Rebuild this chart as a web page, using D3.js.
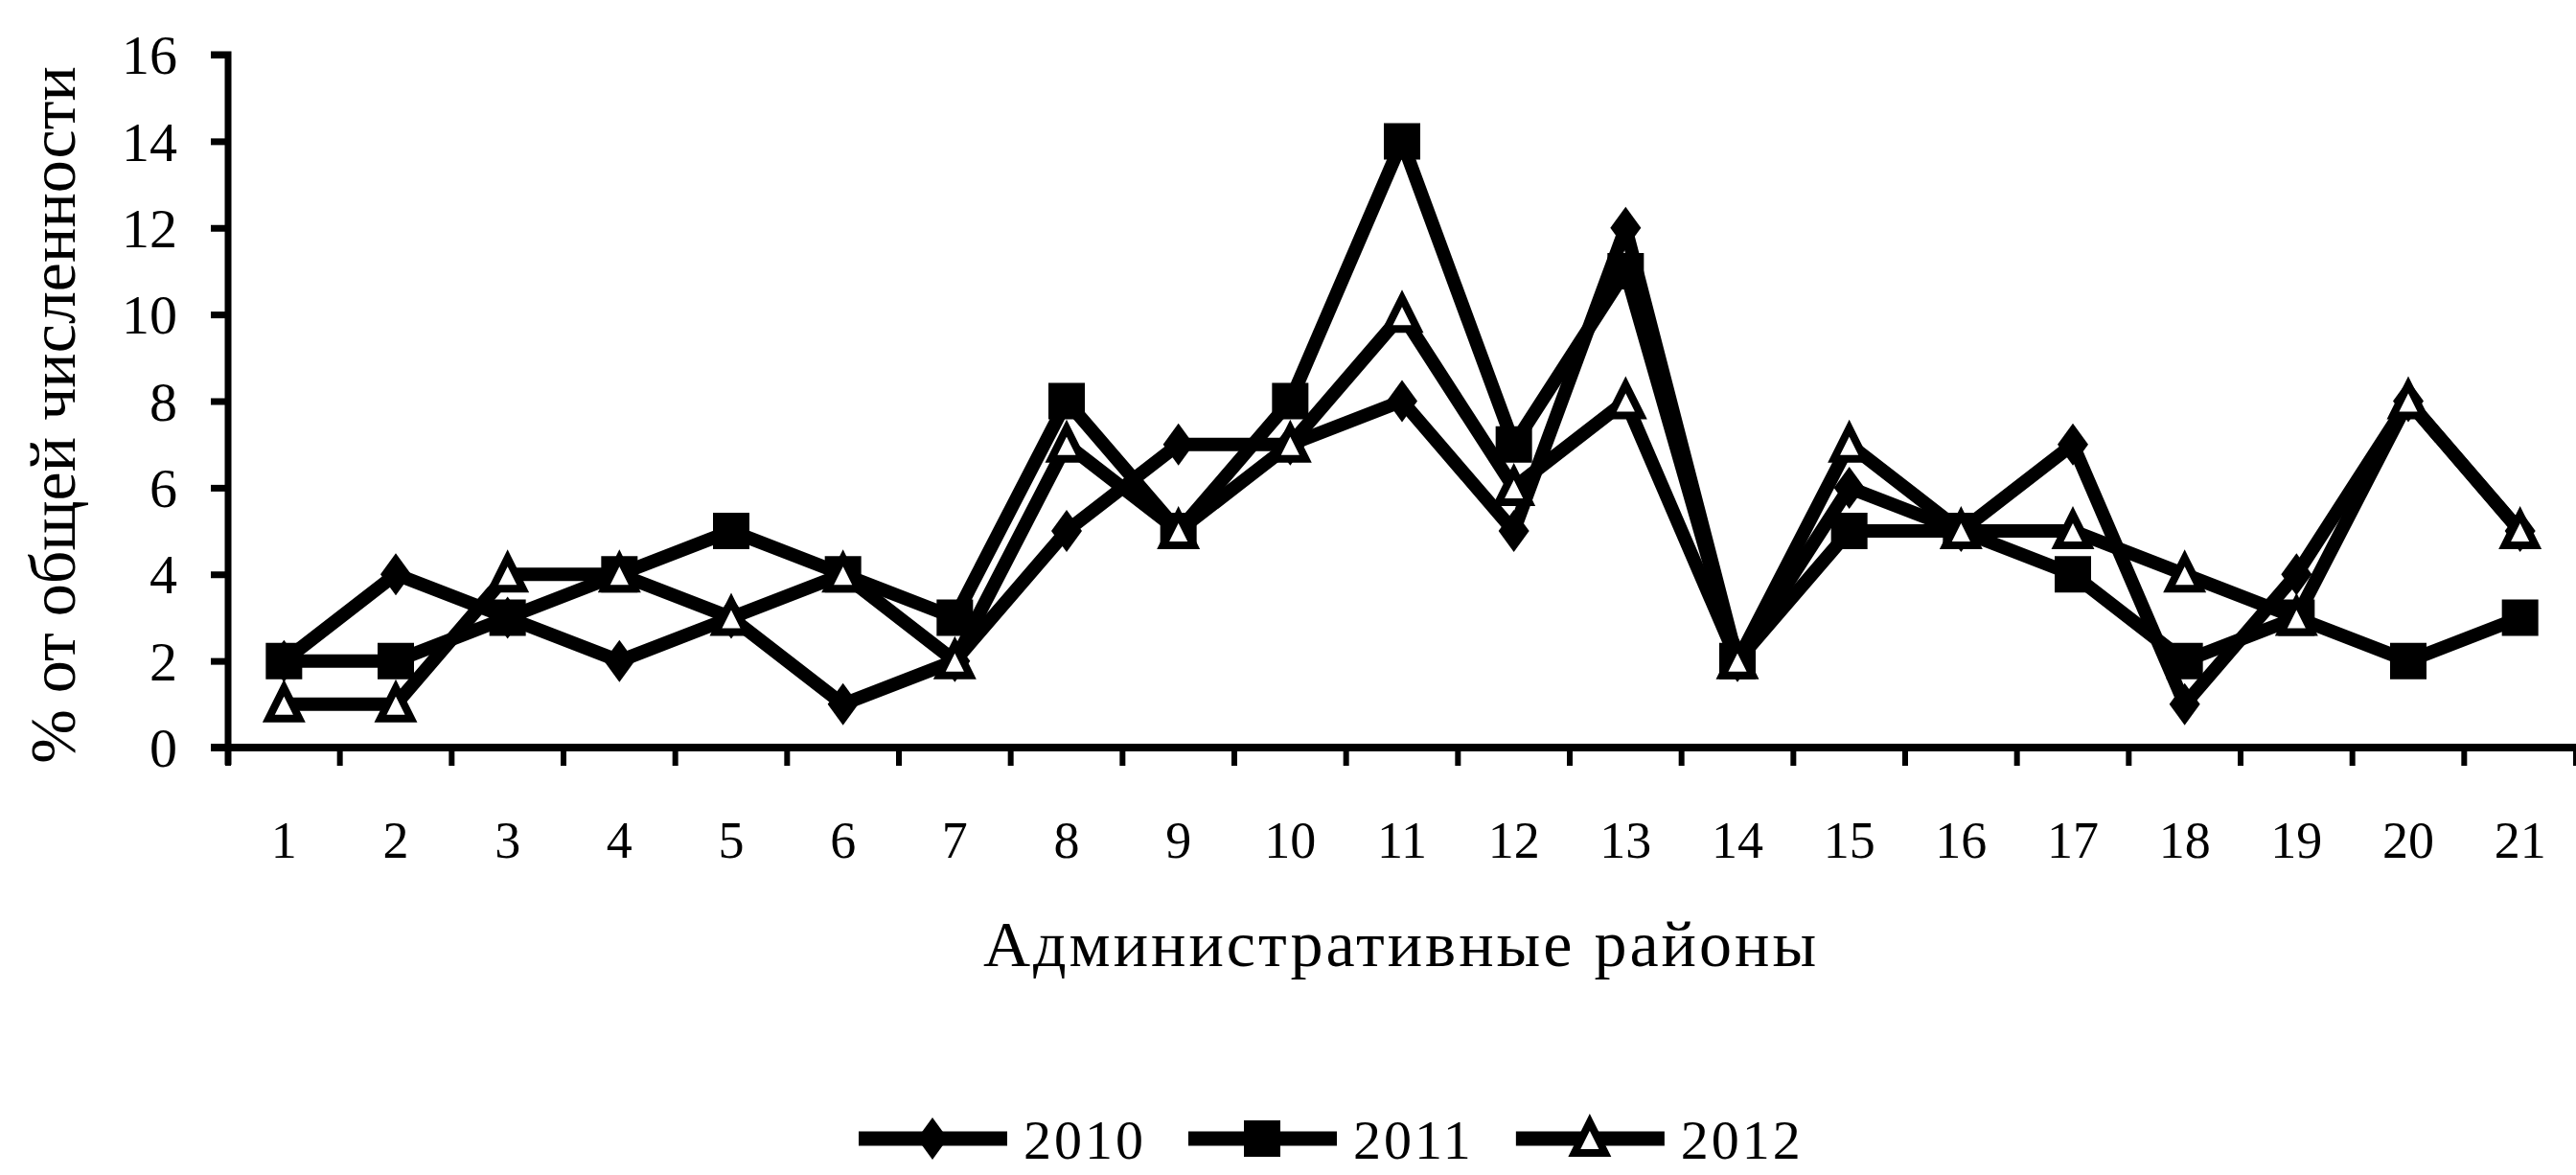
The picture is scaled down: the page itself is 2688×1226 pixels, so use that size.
<!DOCTYPE html>
<html>
<head>
<meta charset="utf-8">
<script src="https://cdn.jsdelivr.net/npm/d3@7"></script>
<style>
  html, body { margin: 0; padding: 0; background: #fff; }
  svg { display: block; }
  text { font-family: "Liberation Serif", "DejaVu Serif", serif; fill: #000; }
</style>
</head>
<body>
<script>
// ---- data ----
const districts = ["1","2","3","4","5","6","7","8","9","10","11","12","13","14","15","16","17","18","19","20","21"];
const values2010 = [2, 4, 3, 2, 3, 1, 2, 5, 7, 7, 8, 5, 12, 2, 6, 5, 7, 1, 4, 8, 5];
const values2011 = [2, 2, 3, 4, 5, 4, 3, 8, 5, 8, 14, 7, 11, 2, 5, 5, 4, 2, 3, 2, 3];
const values2012 = [1, 1, 4, 4, 3, 4, 2, 7, 5, 7, 10, 6, 8, 2, 7, 5, 5, 4, 3, 8, 5];
const seriesNames = ["2010", "2011", "2012"];
const yTicks = [0, 2, 4, 6, 8, 10, 12, 14, 16];
const yTitle = "% от общей численности";
const xTitle = "Административные районы";

const series = [
  { name: seriesNames[0], values: values2010, marker: "diamond" },
  { name: seriesNames[1], values: values2011, marker: "square" },
  { name: seriesNames[2], values: values2012, marker: "triangle" }
];

// ---- layout ----
const W = 2688, H = 1226;
const x0 = 238, x1 = 2688, yTop = 57, yBot = 780;

const svg = d3.select("body").append("svg").attr("width", W).attr("height", H);
svg.append("rect").attr("width", W).attr("height", H).attr("fill", "#fff");

const x = d3.scaleBand().domain(districts).range([x0, x1]).paddingInner(0).paddingOuter(0);
const y = d3.scaleLinear().domain([0, 16]).range([yBot, yTop]);

// markers
function markerPath(type) {
  if (type === "diamond") return "M0,-22L16,0L0,22L-16,0Z";
  if (type === "square") return "M-19,-19H19V19H-19Z";
  return "M0,-17L16,15H-16Z";
}
function styleMarker(sel, type) {
  if (type === "triangle") {
    sel.attr("fill", "#fff").attr("stroke", "#000").attr("stroke-width", 8).attr("stroke-linejoin", "miter");
  } else {
    sel.attr("fill", "#000").attr("stroke", "none");
  }
}

// ---- y axis ----
const yAxis = d3.axisLeft(y).tickValues(yTicks).tickSize(18).tickPadding(35).tickFormat(d3.format("d"));
const gy = svg.append("g").attr("transform", `translate(${x0},0)`).call(yAxis);
gy.select(".domain").attr("stroke", "#000").attr("stroke-width", 7)
  .attr("d", `M${-18},${yTop}H0V${yBot + 18}`);
gy.selectAll(".tick line").attr("stroke", "#000").attr("stroke-width", 7);
gy.selectAll(".tick text").attr("font-size", 58).attr("dy", "0.34em")
  .style("font-family", "'Liberation Serif', serif").attr("fill", "#000");

// ---- x axis ----
const boundaries = districts.map(d => x(d)).concat([x1]);
const gx = svg.append("g").attr("class", "xaxis");
gx.append("line").attr("x1", x0 - 18).attr("x2", x1).attr("y1", yBot).attr("y2", yBot)
  .attr("stroke", "#000").attr("stroke-width", 8);
gx.selectAll("line.tick").data(boundaries).join("line").attr("class", "tick")
  .attr("x1", d => d).attr("x2", d => d).attr("y1", yBot).attr("y2", yBot + 19)
  .attr("stroke", "#000").attr("stroke-width", 6);
gx.selectAll("text.lbl").data(districts).join("text").attr("class", "lbl")
  .attr("x", d => x(d) + x.bandwidth() / 2).attr("y", 895)
  .attr("text-anchor", "middle").attr("font-size", 54).text(d => d);

// ---- titles ----
svg.append("text").attr("transform", `translate(78,433) rotate(-90)`)
  .attr("text-anchor", "middle").attr("font-size", 68).text(yTitle);
svg.append("text").attr("x", 1462).attr("y", 1008)
  .attr("text-anchor", "middle").attr("font-size", 68).attr("letter-spacing", 3).text(xTitle);

// ---- series ----
const line = d3.line()
  .x((d, i) => x(districts[i]) + x.bandwidth() / 2)
  .y(d => y(d));

series.forEach(s => {
  const g = svg.append("g").attr("class", "series");
  g.append("path").datum(s.values).attr("d", line)
    .attr("fill", "none").attr("stroke", "#000").attr("stroke-width", 14)
    .attr("stroke-linejoin", "round");
  g.selectAll("path.mk").data(s.values).join("path").attr("class", "mk")
    .attr("transform", (d, i) => `translate(${x(districts[i]) + x.bandwidth() / 2},${y(d)})`)
    .attr("d", markerPath(s.marker))
    .call(sel => styleMarker(sel, s.marker));
});

// ---- legend ----
const legend = svg.append("g").attr("class", "legend");
let lx = 896;
const ly = 1188;
series.forEach(s => {
  const item = legend.append("g");
  item.append("line").attr("x1", lx).attr("x2", lx + 155).attr("y1", ly).attr("y2", ly)
    .attr("stroke", "#000").attr("stroke-width", 15);
  item.append("path").attr("transform", `translate(${lx + 77},${ly})`)
    .attr("d", markerPath(s.marker)).call(sel => styleMarker(sel, s.marker));
  const t = item.append("text").attr("x", lx + 172).attr("y", 1209)
    .attr("font-size", 58).attr("letter-spacing", 3).text(s.name);
  const tw = t.node().getComputedTextLength();
  lx = lx + 172 + tw + 44;
});
</script>
</body>
</html>
